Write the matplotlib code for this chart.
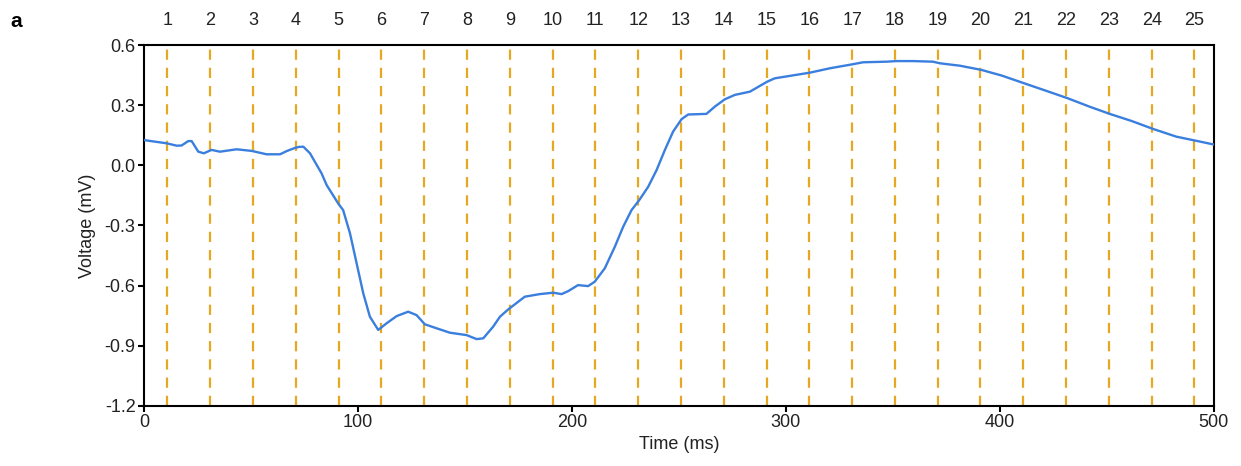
import matplotlib
matplotlib.use("Agg")
import matplotlib.pyplot as plt

plt.rcParams['font.family'] = ['Liberation Sans', 'DejaVu Sans']

# Recorded trace: time (ms) and voltage (mV)
time_ms = [0.0, 10.6, 15.3, 17.6, 20.7, 22.3, 25.4, 28.0, 31.6, 35.5,
           43.3, 50.3, 57.3, 63.6, 66.7, 70.6, 72.5, 74.5, 77.6, 83.0,
           85.4, 90.8, 93.1, 96.3, 99.4, 102.5, 105.6, 109.5, 113.4, 118.1,
           123.5, 127.4, 131.3, 136.8, 143.0, 150.8, 155.5, 158.6, 163.2, 166.4,
           170.2, 178.0, 185.0, 191.3, 195.2, 198.3, 202.9, 207.6, 210.7, 215.4,
           220.1, 224.0, 227.9, 231.5, 235.7, 239.6, 243.5, 247.3, 251.3, 254.4,
           262.9, 266.8, 271.5, 276.2, 283.2, 287.9, 291.3, 294.9, 301.9, 311.2,
           320.6, 331.2, 336.1, 347.0, 351.7, 359.5, 368.8, 372.0, 381.3, 391.4,
           400.8, 411.4, 421.8, 431.8, 442.0, 451.4, 461.5, 471.6, 482.6, 491.6,
           500.0]
voltage_mv = [0.127, 0.111, 0.099, 0.100, 0.122, 0.122, 0.069, 0.061, 0.078, 0.069,
              0.081, 0.073, 0.056, 0.056, 0.072, 0.088, 0.093, 0.094, 0.061, -0.039,
              -0.098, -0.190, -0.223, -0.339, -0.489, -0.639, -0.756, -0.822, -0.789, -0.753,
              -0.731, -0.748, -0.794, -0.814, -0.836, -0.848, -0.868, -0.864, -0.806, -0.756,
              -0.720, -0.656, -0.643, -0.636, -0.643, -0.628, -0.598, -0.603, -0.581, -0.514,
              -0.406, -0.306, -0.223, -0.173, -0.106, -0.023, 0.078, 0.169, 0.232, 0.255,
              0.258, 0.294, 0.331, 0.353, 0.369, 0.398, 0.419, 0.436, 0.448, 0.464,
              0.486, 0.506, 0.516, 0.519, 0.522, 0.522, 0.519, 0.511, 0.499, 0.478,
              0.450, 0.411, 0.373, 0.336, 0.294, 0.258, 0.223, 0.183, 0.144, 0.124,
              0.105]

# Segment boundaries (ms) and their labels
marker_times = [11 + 20 * k for k in range(25)]
marker_labels = [str(k + 1) for k in range(25)]

x_ticks = [0, 100, 200, 300, 400, 500]
y_ticks = [-1.2, -0.9, -0.6, -0.3, 0.0, 0.3, 0.6]
y_tick_labels = ['-1.2', '-0.9', '-0.6', '-0.3', '0.0', '0.3', '0.6']

FS = 13
TEXT = '#222222'

fig = plt.figure(figsize=(12.41, 4.66), dpi=100)
ax = fig.add_axes([0.116, 0.1298, 0.862, 0.7726])

for t in marker_times:
    ax.axvline(t, color='#E6A821', lw=1.6, dashes=(4.6, 3.6), zorder=1)

ax.plot(time_ms, voltage_mv, color='#3A7FDE', lw=1.7, zorder=3,
        solid_joinstyle='round')

ax.set_xlim(0, 500)
ax.set_ylim(-1.2, 0.6)
ax.set_xticks(x_ticks)
ax.set_yticks(y_ticks)
ax.set_yticklabels(y_tick_labels)

for s in ax.spines.values():
    s.set_linewidth(1.5)
    s.set_color('black')
ax.tick_params(axis='both', direction='out', length=4, width=1.5,
               labelsize=FS, color='black', labelcolor=TEXT, pad=2)

ax.set_xlabel('Time (ms)', fontsize=FS, labelpad=4, color=TEXT)
ax.set_ylabel('Voltage (mV)', fontsize=FS, labelpad=6, color=TEXT)

top = ax.secondary_xaxis('top')
top.set_xticks(marker_times)
top.set_xticklabels(marker_labels)
top.tick_params(length=0, labelsize=FS, pad=12, labelcolor=TEXT)
top.spines['top'].set_visible(False)

fig.text(0.008, 0.975, 'a', fontsize=15, fontweight='bold', va='top', ha='left')

fig.savefig('out.png', dpi=100)
